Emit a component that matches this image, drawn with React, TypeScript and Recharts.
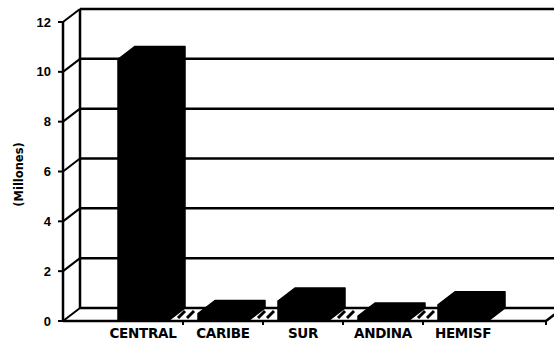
import React from "react";
import { BarChart, Bar, XAxis, YAxis, CartesianGrid } from "recharts";

// regiones y población (millones)
const regions = ["CENTRAL", "CARIBE", "SUR", "ANDINA", "HEMISF"];
const millions = [10.5, 0.3, 0.8, 0.2, 0.65];
const yTicks = [0, 2, 4, 6, 8, 10, 12];

const data = regions.map((region, i) => ({ region, value: millions[i] }));

// depth of the fake 3D box
const DX = 17;
const DY = 13;

function Box3D(props: any) {
  const { x, y, width: w, height: h } = props;
  const d = `M${x},${y + h} L${x},${y} L${x + DX},${y - DY} L${x + w + DX},${y - DY} L${x + w + DX},${y + h - DY} L${x + w},${y + h} Z`;
  return <path d={d} fill="#000" stroke="#000" strokeWidth={1.5} strokeLinejoin="round" />;
}

// back wall lines + side wall diagonals
function WallLine(props: any) {
  const { x1, y1, x2, y, height } = props;
  const isFloor = Math.abs(y1 - (y + height)) < 1;
  return (
    <g key={props.key}>
      <line x1={x1 + DX} y1={y1 - DY} x2={x2 + DX} y2={y1 - DY} stroke="#000" strokeWidth={2.5} />
      <line x1={x1} y1={y1} x2={x1 + DX} y2={y1 - DY} stroke="#000" strokeWidth={2} />
      {isFloor && (
        <>
          <line x1={x2} y1={y1} x2={x2 + DX} y2={y1 - DY} stroke="#000" strokeWidth={2.5} />
          <line x1={x2} y1={y1} x2={x2} y2={y1 + 4} stroke="#000" strokeWidth={2} />
        </>
      )}
    </g>
  );
}

function WallEdge(props: any) {
  const { x1, y1, y2 } = props;
  return <line key={props.key} x1={x1 + DX} y1={y1 - DY} x2={x1 + DX} y2={y2 - DY} stroke="#000" strokeWidth={2.5} />;
}

function RegionTick(props: any) {
  const { x, y, payload, index } = props;
  const half = payload && payload.offset ? payload.offset : 40;
  const bx = x + half;
  const last = index === regions.length - 1;
  return (
    <g>
      <text x={x} y={y + 17} textAnchor="middle" fontFamily="DejaVu Sans" fontWeight="bold" fontSize={13.5} fill="#000" letterSpacing={-0.3}>
        {payload.value}
      </text>
      {!last && (
        <>
          <line x1={bx} y1={y} x2={bx} y2={y + 4} stroke="#000" strokeWidth={2} />
          <line x1={bx - 5} y1={y - 3} x2={bx + 2} y2={y - 10} stroke="#000" strokeWidth={3} />
          <line x1={bx + 4} y1={y - 3} x2={bx + 11} y2={y - 10} stroke="#000" strokeWidth={3} />
        </>
      )}
    </g>
  );
}

function MillonesLabel(props: any) {
  const vb = props.viewBox || { x: 0, y: 22, width: 63, height: 299 };
  const cx = vb.x + 19;
  const cy = vb.y + vb.height / 2 + 3;
  return (
    <text
      x={cx}
      y={cy}
      transform={`rotate(-90, ${cx}, ${cy})`}
      textAnchor="middle"
      dominantBaseline="central"
      fontFamily="DejaVu Sans"
      fontWeight="bold"
      fontSize={11.5}
      fill="#000"
    >
      (Millones)
    </text>
  );
}

export default function App() {
  return (
    <div style={{ position: "absolute", left: 0, top: 0, width: 554, height: 344, background: "#fff" }}>
      <BarChart width={554} height={344} data={data} margin={{ top: 22, right: 8, bottom: 0, left: 0 }} barSize={50}>
        <CartesianGrid
          horizontal={WallLine}
          vertical={WallEdge}
          verticalCoordinatesGenerator={({ offset }: any) => [offset.left]}
        />
        <XAxis
          dataKey="region"
          height={23}
          padding={{ left: 40, right: 43 }}
          axisLine={{ stroke: "#000", strokeWidth: 2.5 }}
          tickLine={false}
          tickSize={0}
          tickMargin={0}
          interval={0}
          tick={RegionTick}
        />
        <YAxis
          width={63}
          domain={[0, 12]}
          ticks={yTicks}
          interval={0}
          axisLine={{ stroke: "#000", strokeWidth: 2.5 }}
          tickLine={{ stroke: "#000", strokeWidth: 2 }}
          tickSize={5}
          tickMargin={7}
          tick={{ fontFamily: "Liberation Sans", fontWeight: "bold", fontSize: 13, fill: "#000" }}
          label={{ content: MillonesLabel }}
        />
        <Bar dataKey="value" shape={Box3D} isAnimationActive={false} />
      </BarChart>
    </div>
  );
}
